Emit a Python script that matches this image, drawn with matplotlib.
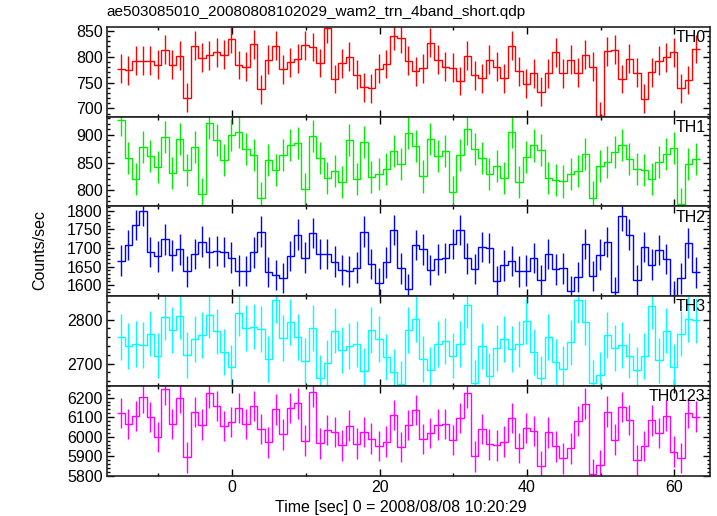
import numpy as np
import matplotlib
matplotlib.use("Agg")
import matplotlib.pyplot as plt
from matplotlib.ticker import MultipleLocator

plt.rcParams['font.family'] = ['Liberation Sans', 'DejaVu Sans']

# ---- data -------------------------------------------------------------
t_first = -15.1      # centre of first 1-s bin
bin_width = 1.0

th0 = [777, 774, 792, 792, 792, 785, 814, 785, 802, 721, 821, 798, 803, 809, 804,
       835, 784, 781, 824, 737, 794, 821, 776, 789, 796, 822, 819, 788, 855, 757,
       787, 800, 765, 741, 739, 777, 786, 841, 836,
       792, 772, 778, 827, 794, 781, 779, 753, 802, 764, 758, 794, 781, 758, 821,
       772, 748, 768, 732, 768, 809, 768, 794, 769, 804, 781, 685, 811, 814, 757,
       796, 769, 719, 770, 792, 799, 809, 739, 755, 815]

th1 = [927, 858, 820, 878, 862, 842, 896, 832, 892, 836, 878, 793, 922, 891, 855,
       900, 905, 875, 864, 786, 854, 836, 864, 882, 886, 802, 898, 858, 822, 835,
       815, 891, 820, 887, 824, 830, 838, 871, 848,
       904, 880, 825, 892, 862, 871, 797, 864, 910, 875, 858, 830, 844, 822, 905,
       815, 860, 881, 872, 822, 819, 816, 830, 835, 865, 787, 844, 851, 869, 882,
       856, 839, 836, 821, 851, 866, 876, 775, 848, 856]

th2 = [1666, 1708, 1762, 1800, 1689, 1677, 1723, 1680, 1696, 1637, 1683, 1717, 1688,
       1692, 1689, 1674, 1639, 1638, 1688, 1744, 1635, 1627, 1619, 1679, 1736, 1674,
       1741, 1683, 1683, 1663, 1640, 1637, 1647, 1744, 1657, 1605, 1661, 1748, 1645,
       1589, 1708, 1696, 1640, 1669, 1673, 1710, 1748, 1672, 1643, 1702, 1700, 1610,
       1653, 1665, 1637, 1639, 1673, 1614, 1683, 1642, 1645, 1583, 1622, 1710, 1624,
       1682, 1716, 1581, 1786, 1736, 1614, 1702, 1655, 1694, 1671, 1571, 1618, 1714,
       1634]

th3 = [2760, 2740, 2745, 2742, 2768, 2718, 2805, 2776, 2807, 2720, 2756, 2764, 2811,
       2773, 2727, 2691, 2814, 2780, 2784, 2778, 2711, 2845, 2758, 2795, 2761, 2705,
       2780, 2668, 2701, 2775, 2730, 2739, 2745, 2683, 2777, 2755, 2714, 2680, 2653,
       2777, 2802, 2710, 2686, 2745, 2752, 2718, 2744, 2833, 2655, 2739, 2672, 2736,
       2755, 2733, 2744, 2797, 2727, 2666, 2761, 2704, 2688, 2748, 2845, 2794, 2655,
       2675, 2764, 2736, 2742, 2718, 2686, 2717, 2830, 2707, 2775, 2693, 2768, 2802,
       2798]

th0123 = [6121, 6066, 6106, 6202, 6101, 5998, 6242, 6066, 6198, 5894, 6126, 6062, 6225,
          6158, 6056, 6074, 6146, 6066, 6156, 6040, 5971, 6140, 6012, 6146, 6171, 5980,
          6230, 5966, 6035, 6025, 5956, 6057, 5965, 6025, 5990, 5953, 5975, 6111, 5946,
          6059, 6136, 5987, 6019, 6062, 6066, 5982, 6096, 6225, 5899, 6040, 5961, 5955,
          5975, 6096, 5943, 6045, 6030, 5851, 6022, 5950, 5889, 5940, 6081, 6170, 5809,
          5856, 6129, 5985, 6151, 6086, 5879, 5953, 6084, 6020, 6108, 5924, 5891, 6121,
          6103]

labels = ["TH0", "TH1", "TH2", "TH3", "TH0123"]
series = [th0, th1, th2, th3, th0123]
errors = [28, 29, 41, 52, 78]          # typical error-bar half length
colors = ["#ff0000", "#00ee00", "#0000ff", "#00ffff", "#ff00ff"]
ylims = [(684, 858), (771, 933), (1570, 1812), (2649, 2853), (5800, 6260)]
ymajor = [50, 50, 50, 100, 100]
yminor = [10, 10, 10, 20, 20]

title = "ae503085010_20080808102029_wam2_trn_4band_short.qdp"
xlabel = "Time [sec] 0 = 2008/08/08 10:20:29"
ylabel = "Counts/sec"
xlim = (-17.0, 64.8)

# ---- plot -------------------------------------------------------------
fig = plt.figure(figsize=(7.17, 5.16), dpi=100)
gs = fig.add_gridspec(5, 1, left=0.149, right=0.990, top=0.948, bottom=0.078, hspace=0)

n = len(th0)
time = t_first + bin_width * np.arange(n)
edges = np.append(time - bin_width / 2, time[-1] + bin_width / 2)

axes = []
for i, (lab, vals, err, col) in enumerate(zip(labels, series, errors, colors)):
    ax = fig.add_subplot(gs[i])
    axes.append(ax)
    vals = np.asarray(vals, float)
    ax.stairs(vals, edges, color=col, lw=1.0, baseline=None)
    ax.errorbar(time, vals, yerr=err, fmt='none', ecolor=col, elinewidth=1.0, capsize=0)
    ax.set_xlim(*xlim)
    ax.set_ylim(*ylims[i])
    ax.xaxis.set_major_locator(MultipleLocator(20))
    ax.xaxis.set_minor_locator(MultipleLocator(10))
    ax.yaxis.set_major_locator(MultipleLocator(ymajor[i]))
    ax.yaxis.set_minor_locator(MultipleLocator(yminor[i]))
    ax.tick_params(which='both', direction='in', top=True, right=True, labelsize=11.5,
                   width=1.0, colors='black', pad=3)
    ax.tick_params(which='major', length=5)
    ax.tick_params(which='minor', length=2.5)
    for s in ax.spines.values():
        s.set_linewidth(1.2)
        s.set_color('#222222')
    ax.text(0.993, 0.88, lab, transform=ax.transAxes, ha='right', va='center',
            fontsize=11.5, color='black')
    if i < 4:
        ax.tick_params(labelbottom=False)

axes[-1].set_xlabel(xlabel, fontsize=11.5)
axes[-1].xaxis.set_label_coords(0.487, -0.265)
fig.text(0.056, 0.515, ylabel, rotation=90, ha='center', va='center', fontsize=11.5)
fig.text(0.149, 0.976, title, ha='left', va='center', fontsize=11)

fig.savefig("out.png", dpi=100)
